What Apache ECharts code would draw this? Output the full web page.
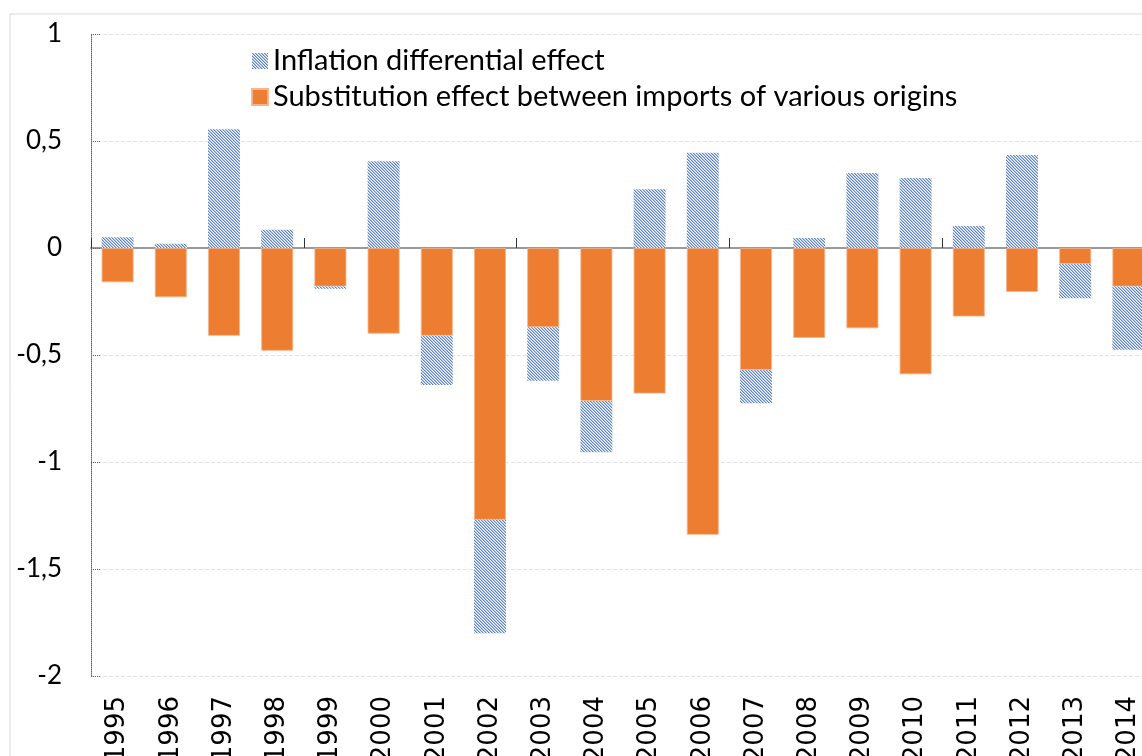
<!DOCTYPE html>
<html>
<head>
<meta charset="utf-8">
<script src="https://cdn.jsdelivr.net/npm/echarts@6/dist/echarts.min.js"></script>
<style>
html,body{margin:0;padding:0;background:#fff;}
#chart{width:1142px;height:756px;}
</style>
</head>
<body>
<div id="chart"></div>
<script>
const years = ['1995','1996','1997','1998','1999','2000','2001','2002','2003','2004','2005','2006','2007','2008','2009','2010','2011','2012','2013','2014'];
const substitutionEffect = [-0.16,-0.23,-0.41,-0.48,-0.18,-0.40,-0.41,-1.27,-0.37,-0.715,-0.68,-1.34,-0.57,-0.42,-0.375,-0.59,-0.32,-0.205,-0.075,-0.18];
const inflationEffect = [0.05,0.02,0.555,0.085,-0.01,0.405,-0.23,-0.53,-0.25,-0.24,0.275,0.445,-0.155,0.047,0.35,0.327,0.103,0.435,-0.16,-0.295];
const seriesNames = ['Inflation differential effect','Substitution effect between imports of various origins'];
const yMin = -2, yMax = 1, yStep = 0.5;

function makeHatch() {
  const n = 6;
  const c = document.createElement('canvas');
  c.width = n; c.height = n;
  const ctx = c.getContext('2d');
  const img = ctx.createImageData(n, n);
  const cols = [[0x55,0x7f,0xcc],[0xb0,0xc3,0xea],[0xff,0xff,0xff]];
  for (let y = 0; y < n; y++) {
    for (let x = 0; x < n; x++) {
      const i = (y * n + x) * 4;
      const m = ((x - y) % 3 + 3) % 3;
      const col = cols[m];
      img.data[i] = col[0]; img.data[i+1] = col[1]; img.data[i+2] = col[2]; img.data[i+3] = 255;
    }
  }
  ctx.putImageData(img, 0, 0);
  return c;
}
const hatch = { image: makeHatch(), repeat: 'repeat' };

const chart = echarts.init(document.getElementById('chart'), null, { renderer: 'canvas' });
chart.setOption({
  animation: false,
  backgroundColor: '#fff',
  graphic: [{
    type: 'rect', z: -10, silent: true,
    shape: { x: 10, y: 14, width: 1200, height: 800 },
    style: { fill: null, stroke: '#d9d9d9', lineWidth: 1 }
  }],
  legend: {
    orient: 'vertical',
    left: 246, top: 41,
    itemWidth: 16, itemHeight: 16, itemGap: 6,
    icon: 'rect',
    data: [seriesNames[0], seriesNames[1]],
    textStyle: { fontFamily: 'Lato', fontSize: 29, color: '#000', lineHeight: 30 }
  },
  grid: { left: 91, top: 34, width: 1064, height: 642, containLabel: false, outerBoundsMode: 'none' },
  xAxis: [{
    type: 'category', data: years, position: 'bottom',
    axisLine: { show: false, onZero: false },
    axisTick: { show: false },
    axisLabel: { rotate: 90, margin: 20, fontFamily: 'DejaVu Sans', fontSize: 26, color: '#000', interval: 0 },
    splitLine: { show: false }
  }, {
    type: 'category', data: years, position: 'top',
    axisLine: { show: true, onZero: true, lineStyle: { color: '#999', width: 2 } },
    axisTick: { show: true, inside: false, interval: 3, length: 10, lineStyle: { color: '#333', width: 1 } },
    axisLabel: { show: false },
    splitLine: { show: false }
  }],
  yAxis: {
    type: 'value', min: yMin, max: yMax, interval: yStep,
    axisLine: { show: true, lineStyle: { color: '#666', width: 1, type: 'dotted' } },
    axisTick: { show: true, inside: true, length: 9, lineStyle: { color: '#666', type: 'dotted' } },
    axisLabel: {
      margin: 29, fontFamily: 'Lato', fontSize: 26, color: '#000',
      formatter: v => String(v).replace('.', ',')
    },
    splitLine: { show: true, lineStyle: { color: '#e2e2e2', width: 1, type: 'dashed' } }
  },
  series: [{
    name: seriesNames[1], type: 'bar', stack: 'total', xAxisIndex: 0,
    data: substitutionEffect, barCategoryGap: '40%',
    itemStyle: { color: '#ED7D31', borderColor: '#f6b58a', borderWidth: 0.8 }
  }, {
    name: seriesNames[0], type: 'bar', stack: 'total', xAxisIndex: 0,
    data: inflationEffect, barCategoryGap: '40%',
    itemStyle: { color: hatch }
  }]
});
</script>
</body>
</html>
